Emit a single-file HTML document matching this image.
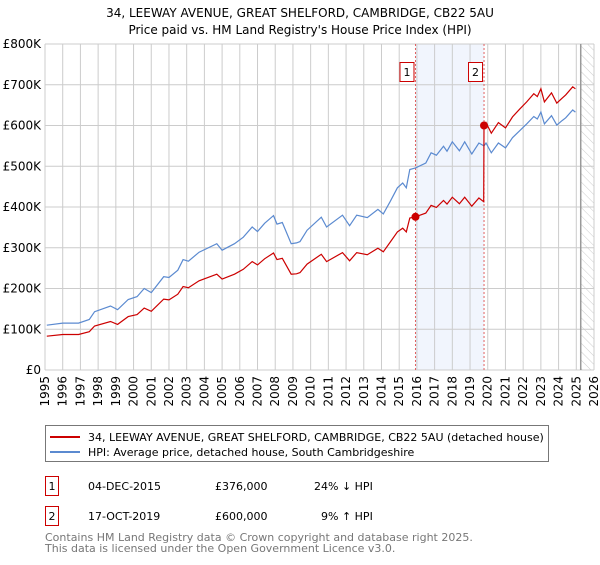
<!DOCTYPE html>
<html><head><meta charset="utf-8"><style>
body{margin:0;background:#fff;font-family:"Liberation Sans","DejaVu Sans",sans-serif}
svg text{font-family:"DejaVu Sans","Liberation Sans",sans-serif}
</style></head><body>
<svg id="chart" width="600" height="560" viewBox="0 0 600 560" xmlns="http://www.w3.org/2000/svg">
<defs><pattern id="hatch" width="6" height="6" patternUnits="userSpaceOnUse" patternTransform="rotate(-45)"><line x1="0" y1="0" x2="0" y2="6" stroke="#ccc" stroke-width="1"/></pattern></defs>
<text x="300" y="17" text-anchor="middle" font-size="12" fill="#000">34, LEEWAY AVENUE, GREAT SHELFORD, CAMBRIDGE, CB22 5AU</text>
<text x="300" y="34" text-anchor="middle" font-size="12" fill="#000">Price paid vs. HM Land Registry's House Price Index (HPI)</text>
<g id="grid"></g><g id="marks"></g><g id="axes"></g>
<rect x="45.5" y="425.5" width="503" height="36" fill="#fff" stroke="#777"/>
<line x1="50" y1="437" x2="80" y2="437" stroke="#cc0000" stroke-width="2"/>
<text x="88" y="441" font-size="11" fill="#000">34, LEEWAY AVENUE, GREAT SHELFORD, CAMBRIDGE, CB22 5AU (detached house)</text>
<line x1="50" y1="452" x2="80" y2="452" stroke="#5b8ad0" stroke-width="2"/>
<text x="88" y="456" font-size="11" fill="#000">HPI: Average price, detached house, South Cambridgeshire</text>
<rect x="45.5" y="476.5" width="13" height="19" fill="#fff" stroke="#cc0000"/>
<text x="52" y="490" text-anchor="middle" font-size="11">1</text>
<text x="88" y="490" font-size="11">04-DEC-2015</text>
<text x="215" y="490" font-size="11">£376,000</text>
<text x="314" y="490" font-size="11">24% ↓ HPI</text>
<rect x="45.5" y="506.5" width="13" height="19" fill="#fff" stroke="#cc0000"/>
<text x="52" y="520" text-anchor="middle" font-size="11">2</text>
<text x="88" y="520" font-size="11">17-OCT-2019</text>
<text x="215" y="520" font-size="11">£600,000</text>
<text x="321" y="520" font-size="11">9% ↑ HPI</text>
<text x="45" y="541" font-size="11" fill="#777">Contains HM Land Registry data © Crown copyright and database right 2025.</text>
<text x="45" y="552" font-size="11" fill="#777">This data is licensed under the Open Government Licence v3.0.</text>
</svg>
<script>
const hpiYears=[1995.1,1996.0,1996.9,1997.5,1997.8,1998.7,1999.1,1999.7,2000.2,2000.6,2001.0,2001.7,2002.0,2002.5,2002.8,2003.1,2003.7,2004.7,2005.0,2005.7,2006.2,2006.7,2007.0,2007.4,2007.9,2008.1,2008.4,2008.9,2009.2,2009.4,2009.8,2010.6,2010.9,2011.8,2012.2,2012.6,2013.2,2013.8,2014.1,2014.5,2014.9,2015.2,2015.4,2015.6,2015.92,2016.5,2016.8,2017.1,2017.5,2017.7,2018.0,2018.4,2018.7,2019.1,2019.5,2019.79,2019.9,2020.2,2020.6,2021.0,2021.4,2021.8,2022.2,2022.6,2022.8,2023.0,2023.2,2023.6,2023.9,2024.2,2024.4,2024.8,2024.95];
const hpiValues=[110,115,115,124,143,157,148,173,180,200,190,229,227,245,271,267,289,310,294,310,326,351,340,360,379,358,362,310,312,315,343,375,351,380,354,380,374,394,383,414,447,459,447,492,496,508,533,527,549,537,560,538,560,530,557,550,557,533,557,545,570,587,604,622,616,633,604,624,601,612,619,638,633];
const priceYears=[1995.1,1996.0,1996.9,1997.5,1997.8,1998.7,1999.1,1999.7,2000.2,2000.6,2001.0,2001.7,2002.0,2002.5,2002.8,2003.1,2003.7,2004.7,2005.0,2005.7,2006.2,2006.7,2007.0,2007.4,2007.9,2008.1,2008.4,2008.9,2009.2,2009.4,2009.8,2010.6,2010.9,2011.8,2012.2,2012.6,2013.2,2013.8,2014.1,2014.5,2014.9,2015.2,2015.4,2015.6,2015.92,2016.5,2016.8,2017.1,2017.5,2017.7,2018.0,2018.4,2018.7,2019.1,2019.5,2019.77,2019.79,2019.9,2020.2,2020.6,2021.0,2021.4,2021.8,2022.2,2022.6,2022.8,2023.0,2023.2,2023.6,2023.9,2024.2,2024.4,2024.8,2024.95];
const priceValues=[83,87,87,94,108,119,112,131,136,152,144,174,172,186,205,202,219,235,223,235,247,266,258,273,287,271,274,235,236,239,260,284,266,288,268,288,283,299,290,314,339,348,339,373,376,385,404,399,416,407,424,408,424,402,422,413,600,607,581,607,594,621,640,658,678,671,690,658,680,655,667,675,695,690];
const saleYears=[2015.92,2019.79];
const saleValues=[376,600];
const saleLabels=["1","2"];
const yTicks=[0,100,200,300,400,500,600,700,800];
const yTickLabels=["£0","£100K","£200K","£300K","£400K","£500K","£600K","£700K","£800K"];
const xTicks=[1995,1996,1997,1998,1999,2000,2001,2002,2003,2004,2005,2006,2007,2008,2009,2010,2011,2012,2013,2014,2015,2016,2017,2018,2019,2020,2021,2022,2023,2024,2025,2026];
const X0=45,X1=594,Y0=370,Y1=44;
const xs=y=>X0+(y-1995)/(2026-1995)*(X1-X0);
const ys=v=>Y0-v/800*(Y0-Y1);
const NS="http://www.w3.org/2000/svg";
function mk(parent,tag,attrs){const e=document.createElementNS(NS,tag);for(const k in attrs)e.setAttribute(k,attrs[k]);parent.appendChild(e);return e;}
const grid=document.getElementById('grid'),marks=document.getElementById('marks'),axes=document.getElementById('axes');
let band=mk(grid,'rect',{x:xs(saleYears[0]),y:Y1,width:xs(saleYears[1])-xs(saleYears[0]),height:Y0-Y1,fill:'#f1f5fd'});


let hatch=mk(grid,'rect',{x:xs(2025.25),y:Y1,width:X1-xs(2025.25),height:Y0-Y1,fill:'url(#hatch)'});


yTicks.forEach((t,i)=>{
 let l=mk(grid,'line',{x1:X0,x2:X1,y1:ys(t),y2:ys(t),stroke:'#ccc','stroke-width':1});
 
 
 let tx=mk(axes,'text',{x:X0-4,y:ys(t)+4,'text-anchor':'end','font-size':12});
 tx.textContent=yTickLabels[i];
 
 
});
xTicks.forEach(t=>{
 let l=mk(grid,'line',{x1:xs(t),x2:xs(t),y1:Y1,y2:Y0,stroke:'#ccc','stroke-width':1});
 
 
 let tx=mk(axes,'text',{x:0,y:0,'text-anchor':'end','font-size':12,transform:`translate(${xs(t)+4},${Y0+6}) rotate(-90)`});
 tx.textContent=t;
 
 
});
let nowLine=mk(grid,'line',{x1:xs(2025.25),x2:xs(2025.25),y1:Y1,y2:Y0,stroke:'#999','stroke-width':1.5});


saleYears.forEach((y,i)=>{
 let l=mk(marks,'line',{x1:xs(y),x2:xs(y),y1:Y1,y2:Y0,stroke:'#e06060','stroke-width':1,'stroke-dasharray':'2,2'});
 
 
});
let hp=mk(marks,'path',{d:hpiYears.map((y,i)=>(i?'L':'M')+xs(y).toFixed(1)+','+ys(hpiValues[i]).toFixed(1)).join(''),fill:'none',stroke:'#5b8ad0','stroke-width':1.2});


let pp=mk(marks,'path',{d:priceYears.map((y,i)=>(i?'L':'M')+xs(y).toFixed(1)+','+ys(priceValues[i]).toFixed(1)).join(''),fill:'none',stroke:'#cc0000','stroke-width':1.2});


saleYears.forEach((y,i)=>{
 let c=mk(marks,'circle',{cx:xs(y),cy:ys(saleValues[i]),r:4,fill:'#cc0000'});
 
 
 let r=mk(marks,'rect',{x:xs(y)-15.5,y:62.5,width:14,height:19,fill:'#fff',stroke:'#cc0000'});
 
 
 let t=mk(marks,'text',{x:xs(y)-8.5,y:76,'text-anchor':'middle','font-size':11});
 t.textContent=saleLabels[i];
 
 
});
</script>
</body></html>
